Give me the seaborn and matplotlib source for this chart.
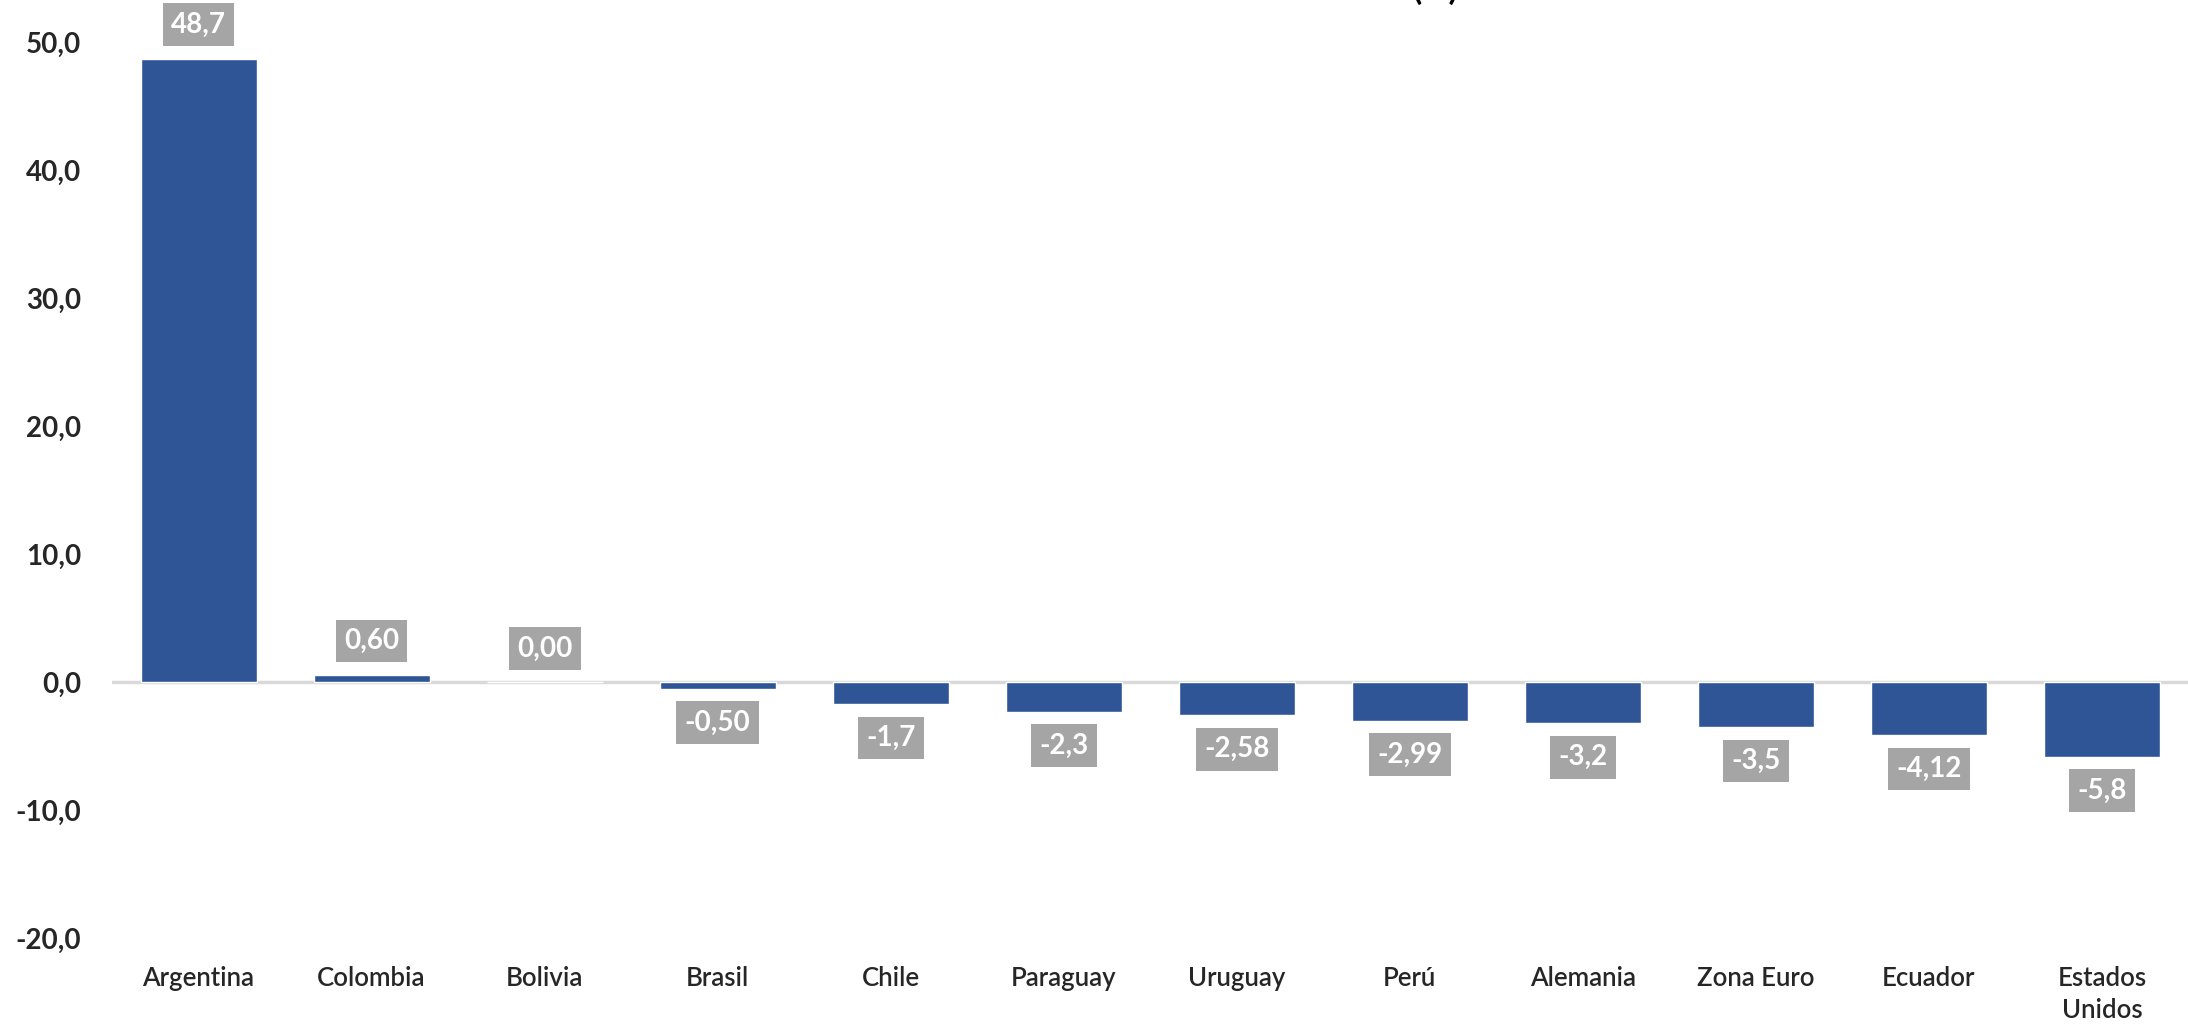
import matplotlib
matplotlib.use("Agg")
import matplotlib.pyplot as plt
import seaborn as sns
import pandas as pd
from matplotlib.ticker import FuncFormatter, FixedLocator

categories = ["Argentina", "Colombia", "Bolivia", "Brasil", "Chile", "Paraguay",
              "Uruguay", "Perú", "Alemania", "Zona Euro", "Ecuador", "Estados\nUnidos"]
values = [48.7, 0.60, 0.00, -0.50, -1.7, -2.3, -2.58, -2.99, -3.2, -3.5, -4.12, -5.8]
value_labels = ["48,7", "0,60", "0,00", "-0,50", "-1,7", "-2,3", "-2,58", "-2,99",
                "-3,2", "-3,5", "-4,12", "-5,8"]
y_ticks = [-20, -10, 0, 10, 20, 30, 40, 50]

sns.set_theme(style="white")
plt.rcParams['font.family'] = ['Lato', 'DejaVu Sans']

df = pd.DataFrame({"pais": categories, "valor": values})

fig = plt.figure(figsize=(21.88, 10.25), dpi=100)
ax = fig.add_axes([0.0512, 0.0843, 0.949, 0.8748])

sns.barplot(data=df, x="pais", y="valor", color="#2F5597", saturation=1,
            width=0.67, ax=ax, zorder=3)

ax.set_ylim(-20, 50)
ax.set_xlim(-0.5, len(categories) - 0.5)
ax.yaxis.set_major_locator(FixedLocator(y_ticks))
ax.yaxis.set_major_formatter(FuncFormatter(lambda v, p: f"{v:.1f}".replace(".", ",")))

for s in ax.spines.values():
    s.set_visible(False)
ax.axhline(0, color="#D9D9D9", lw=2.5, zorder=2)

ax.set_xlabel("")
ax.set_ylabel("")
ax.tick_params(axis="y", length=0, pad=22, labelsize=20)
ax.tick_params(axis="x", length=0, pad=20, labelsize=18.5)
for lab in ax.get_yticklabels():
    lab.set_fontweight("bold")
for lab in ax.get_xticklabels():
    lab.set_fontweight("semibold")
    lab.set_va("top")
    lab.set_linespacing(1.35)

for i, (v, t) in enumerate(zip(values, value_labels)):
    if v >= 0:
        off, va = 15, "bottom"
    else:
        off, va = -15, "top"
    ax.annotate(t, xy=(i, v), xytext=(0, off), textcoords="offset points",
                ha="center", va=va, color="white", fontsize=20, fontweight="bold",
                bbox=dict(boxstyle="square,pad=0.3", fc="#A5A5A5", ec="none"),
                annotation_clip=False, zorder=5)

fig.text(0.656, 1.0, "(%)", ha="center", va="baseline", fontsize=24,
         fontweight="bold", color="black")

fig.savefig("out.png", dpi=100)
